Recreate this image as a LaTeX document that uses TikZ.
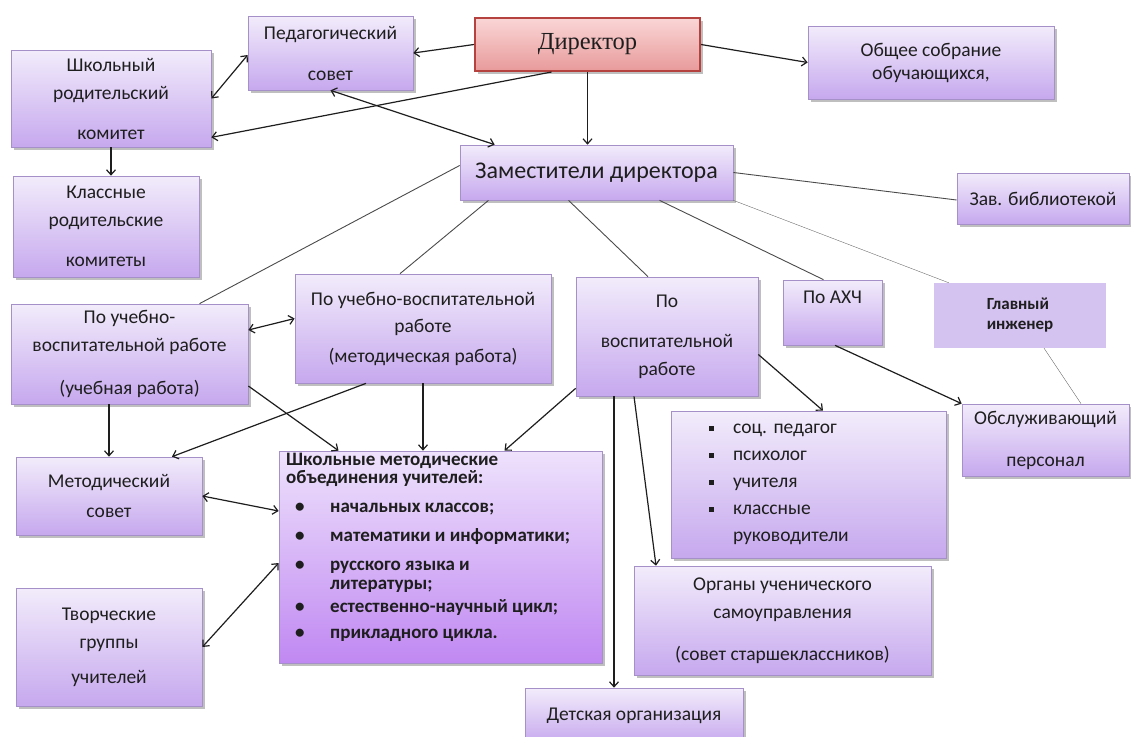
\documentclass[tikz,border=0pt]{standalone}
\usepackage{fontspec}
\setmainfont{Carlito}
\newfontfamily\dirfont{Liberation Serif}
\usepackage{tikz}
\usetikzlibrary{shadows}
\usetikzlibrary{arrows.meta}

\definecolor{boxtop}{HTML}{F2ECFB}
\definecolor{boxbot}{HTML}{C6A8EE}
\definecolor{boxline}{HTML}{A590C8}
\definecolor{dirtop}{HTML}{FAD6D6}
\definecolor{dirbot}{HTML}{E89A9A}
\definecolor{dirline}{HTML}{B5423F}
\definecolor{motop}{HTML}{EEE2FC}
\definecolor{mobot}{HTML}{C088F2}
\definecolor{glfill}{HTML}{D4C2F1}
\definecolor{ink}{HTML}{1E1E1E}

\newcommand{\sqb}{\makebox[24pt][l]{\rule[3pt]{4.5pt}{4.5pt}}}
\newcommand{\rndb}{\hspace*{9pt}\makebox[35pt][l]{\textbullet}}

\begin{document}
\begin{tikzpicture}[x=1pt,y=-1pt,>={Straight Barb[length=5pt,width=9pt]},
    orgbox/.style={draw=boxline,line width=.7pt,top color=boxtop,bottom color=boxbot,
      drop shadow={shadow xshift=2.5pt,shadow yshift=-2.5pt,fill=black!45,opacity=.55},
      align=center,inner sep=0pt,text=ink,font=\fontsize{19.5}{23}\selectfont},
    headbox/.style={orgbox,draw=dirline,line width=2pt,top color=dirtop,bottom color=dirbot,
      font=\dirfont\fontsize{24.5}{28}\selectfont},
    mobox/.style={orgbox,top color=motop,bottom color=mobot},
    flatbox/.style={fill=glfill,draw=none,align=left,inner sep=0pt,text=ink,
      font=\bfseries\fontsize{17}{20}\selectfont},
    arr/.style={->,line width=1.2pt,draw=ink},
    darr/.style={<->,line width=1.2pt,draw=ink},
    link/.style={line width=.9pt,draw=ink!80},
    hair/.style={line width=.35pt,draw=ink!70}]
  \fill[white] (0,0) rectangle (1131,736);
  \useasboundingbox (0,0) rectangle (1131,736);
  \clip (0,0) rectangle (1131,736);

  % top row
  \node[headbox,minimum width=225pt,minimum height=53pt] (dir) at (587.5,44.5) {Директор};
  \node[orgbox,minimum width=165pt,minimum height=74pt] (ped) at (330.5,53) {Педагогический\\[18pt]совет};
  \node[orgbox,minimum width=246pt,minimum height=73pt] (obs) at (931,62.5) {Общее собрание\\обучающихся,};
  \node[orgbox,minimum width=200pt,minimum height=97pt] (shk) at (111,98.5) {Школьный\\[5pt]родительский\\[17pt]комитет};
  \node[orgbox,minimum width=186pt,minimum height=101pt] (kls) at (106,226.5) {Классные\\[5pt]родительские\\[17pt]комитеты};
  \node[orgbox,minimum width=273pt,minimum height=55pt,font=\fontsize{24}{28}\selectfont] (zam) at (596.5,172.5) {Заместители директора};
  \node[orgbox,minimum width=172pt,minimum height=51pt] (zav) at (1043,198.5) {Зав. библиотекой};

  % deputies
  \node[orgbox,minimum width=237pt,minimum height=100pt] (uch) at (129.5,354) {По учебно-\\[5pt]воспитательной работе\\[20pt](учебная работа)};
  \node[orgbox,minimum width=256pt,minimum height=109pt] (met) at (423,328.5) {По учебно-воспитательной\\[4pt]работе\\[7pt](методическая работа)};
  \node[orgbox,minimum width=182pt,minimum height=119pt] (vos) at (667,336.5) {По\\[17pt]воспитательной\\[5pt]работе};
  \node[orgbox,minimum width=99pt,minimum height=65pt] (ahc) at (832.5,312.5) {По АХЧ\\[8pt]\mbox{}};
  \node[flatbox,minimum width=172pt,minimum height=65pt] (gl) at (1020,315.5) {Главный\\инженер};

  % lower part
  \node[orgbox,minimum width=186pt,minimum height=78pt] (mets) at (109,496) {Методический\\[7pt]совет};
  \node[orgbox,minimum width=186pt,minimum height=118pt] (tvor) at (109,647) {Творческие\\[5pt]группы\\[12pt]учителей};
  \node[mobox,minimum width=323pt,minimum height=212pt] (shmo) at (440.5,557) {};
  \node[anchor=north west,align=left,inner sep=0pt,text=ink,font=\bfseries\fontsize{19}{23}\selectfont] (shmotext) at (286,453)
    {Школьные методические\\[-5pt]объединения учителей:\\[6pt]
     \rndb начальных классов;\\[6pt]
     \rndb математики и информатики;\\[6pt]
     \rndb русского языка и\\[-4pt]\hspace*{44pt}литературы;\\[0pt]
     \rndb естественно-научный цикл;\\[3pt]
     \rndb прикладного цикла.};
  \node[orgbox,minimum width=275pt,minimum height=147pt,text width=199pt,align=left] (soc) at (808.5,484.5)
    {\sqb соц.\ педагог\\[4pt]\sqb психолог\\[4pt]\sqb учителя\\[4pt]\sqb классные\\[4pt]\hspace*{24pt}руководители};
  \node[orgbox,minimum width=167pt,minimum height=72pt] (obsl) at (1045.5,440) {Обслуживающий\\[19pt]персонал};
  \node[orgbox,minimum width=297pt,minimum height=109pt] (org) at (782.5,620.5) {Органы ученического\\[5pt]самоуправления\\[19pt](совет старшеклассников)};
  \node[orgbox,minimum width=218pt,minimum height=56pt] (det) at (634,716) {Детская организация};

  % connectors
  \draw[arr] (dir.west) -- (ped.east);
  \draw[arr] ([xshift=-36pt]dir.south) -- ([yshift=10pt]shk.south east);
  \draw[arr] (dir.east) -- (obs.west);
  \draw[arr] (dir.south) -- (dir.south |- zam.north);
  \draw[darr] (shk.east) -- ([yshift=-2pt]ped.west);
  \draw[darr] (ped.south) -- ([xshift=35pt]zam.north west);
  \draw[arr] (shk.south) -- (shk.south |- kls.north);
  \draw[link] ([yshift=7pt]zam.west) -- ([xshift=70pt]uch.north);
  \draw[link] ([xshift=-108pt]zam.south) -- ([xshift=-23pt]met.north);
  \draw[link] ([xshift=-28pt]zam.south) -- ([xshift=-19pt]vos.north);
  \draw[link] ([xshift=63pt]zam.south) -- ([xshift=-9pt]ahc.north);
  \draw[hair] (zam.south east) -- ([xshift=15pt]gl.north west);
  \draw[link] (zam.east) -- ([yshift=-1.5pt]zav.west);
  \draw[darr] ([yshift=24pt]uch.east) -- ([yshift=10pt]met.west);
  \draw[arr] (mets.north |- uch.south) -- (mets.north);
  \draw[arr] ([xshift=-57pt]met.south) -- ([xshift=63pt]mets.north);
  \draw[arr] ([yshift=-32pt]uch.east) -- ([xshift=-102pt]shmo.north);
  \draw[arr] (met.south) -- (met.south |- shmo.north);
  \draw[arr] ([yshift=8pt]vos.south west) -- ([xshift=64pt]shmo.north);
  \draw[darr] (mets.east) -- ([yshift=46pt]shmo.west);
  \draw[darr] (tvor.east) -- ([yshift=-6pt]shmo.west);
  \coordinate (vd) at ([xshift=-53pt]vos.south);
  \draw[arr] (vd) -- (vd |- det.north);
  \draw[arr] ([xshift=-33pt]vos.south) -- ([xshift=-126.5pt]org.north);
  \draw[arr] ([yshift=-18pt]vos.east) -- ([xshift=14.5pt]soc.north);
  \draw[arr] ([xshift=2.5pt]ahc.south) -- (obsl.north west);
  \draw[hair] ([xshift=24pt]gl.south) -- ([xshift=35.5pt]obsl.north);
\end{tikzpicture}
\end{document}
